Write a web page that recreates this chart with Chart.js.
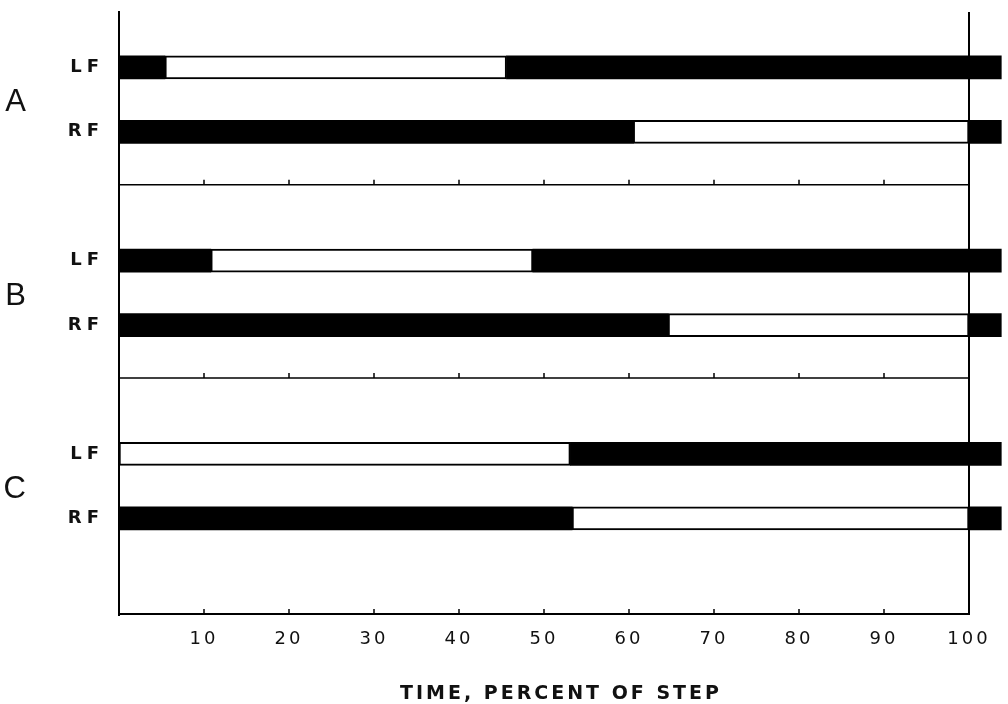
<!DOCTYPE html>
<html>
<head>
<meta charset="utf-8">
<script src="https://cdn.jsdelivr.net/npm/chart.js@4/dist/chart.umd.min.js"></script>
<style>
  html, body { margin: 0; padding: 0; background: #fff; }
  #wrap { width: 1008px; height: 704px; }
</style>
</head>
<body>
<div id="wrap"><canvas id="gait"></canvas></div>
<script>
// Footfall diagram: stance (black) and swing (white) of each forefoot
const groups = ["A", "B", "C"];
const feet = ["LF", "RF", "LF", "RF", "LF", "RF"];
// swing phase, percent of step
const swingStart = [5.4, 60.5, 10.8, 64.6, 0, 53.3];
const swingEnd = [45.6, 100, 48.7, 100, 53.1, 100];
// records run on a little into the next step
const traceEnd = 103.8;
const xTicks = [10, 20, 30, 40, 50, 60, 70, 80, 90, 100];

// vertical layout, in row units
const rowPos = [1, 2, 4, 5, 7, 8];
const groupPos = [1.55, 4.55, 7.55];
const separators = [2.82, 5.82];
const yMin = 0.14;
const yMax = 9.5;

const stanceBefore = [];
const swing = [];
const stanceAfter = [];
feet.forEach((f, i) => {
  if (swingStart[i] > 0) stanceBefore.push({ y: rowPos[i], x: [0, swingStart[i]] });
  swing.push({ y: rowPos[i], x: [swingStart[i], swingEnd[i]] });
  stanceAfter.push({ y: rowPos[i], x: [swingEnd[i], traceEnd] });
});

// per-axis letter spacing for the lettering
const spacing = {
  x: { labels: "3px", title: "3px" },
  y: { labels: "5px", title: "0px" },
  group: { labels: "0px", title: "0px" },
};

const spacingPlugin = {
  id: "spacing",
  beforeDraw(chart) {
    Object.values(chart.scales).forEach((scale) => {
      if (scale._spaced) return;
      scale._spaced = true;
      [["drawLabels", "labels"], ["drawTitle", "title"]].forEach(([fn, key]) => {
        const orig = scale[fn];
        scale[fn] = function (...args) {
          const ctx = this.ctx;
          const prev = ctx.letterSpacing;
          ctx.letterSpacing = (spacing[this.id] || {})[key] || "0px";
          orig.apply(this, args);
          ctx.letterSpacing = prev;
        };
      });
    });
  },
};

// end-of-step line, time axis and the separators between records
const framePlugin = {
  id: "frame",
  afterDatasetsDraw(chart) {
    const { ctx, chartArea, scales: { x, y } } = chart;
    const x0 = x.getPixelForValue(0);
    const x100 = x.getPixelForValue(100);
    ctx.save();
    ctx.strokeStyle = "#000";
    ctx.lineWidth = 2;
    ctx.beginPath();
    ctx.moveTo(x100, chartArea.top);
    ctx.lineTo(x100, chartArea.bottom);
    ctx.stroke();

    const lines = separators.map((v) => y.getPixelForValue(v));
    lines.push(chartArea.bottom - 1);
    lines.forEach((py, i) => {
      ctx.lineWidth = i === lines.length - 1 ? 2 : 1.5;
      ctx.beginPath();
      ctx.moveTo(x0, py);
      ctx.lineTo(x100, py);
      ctx.stroke();
      ctx.lineWidth = 1.5;
      xTicks.slice(0, -1).forEach((t) => {
        const px = x.getPixelForValue(t);
        ctx.beginPath();
        ctx.moveTo(px, py);
        ctx.lineTo(px, py - 5);
        ctx.stroke();
      });
    });
    ctx.restore();
  },
};

// the row axes should not reserve room for their end labels
const noEndPadding = (width) => (s) => {
  s.width = width;
  s.paddingTop = 0;
  s.paddingBottom = 0;
};

Chart.defaults.color = "#111";

new Chart(document.getElementById("gait"), {
  type: "bar",
  data: {
    datasets: [
      { label: "stance", data: stanceBefore, backgroundColor: "#000", borderWidth: 0 },
      {
        label: "swing",
        data: swing,
        backgroundColor: "#fff",
        borderColor: "#000",
        borderWidth: 2,
        borderSkipped: false,
      },
      { label: "stance", data: stanceAfter, backgroundColor: "#000", borderWidth: 0 },
    ],
  },
  options: {
    indexAxis: "y",
    responsive: true,
    maintainAspectRatio: false,
    animation: false,
    grouped: false,
    barThickness: 23,
    layout: { padding: { top: 12, right: 5, bottom: 0, left: 0 } },
    plugins: {
      legend: { display: false },
      tooltip: { enabled: false },
    },
    scales: {
      x: {
        type: "linear",
        min: 0,
        max: 104,
        offset: false,
        grid: { display: false },
        border: { display: false },
        afterBuildTicks: (s) => {
          s.ticks = xTicks.map((v) => ({ value: v }));
        },
        afterFit: (s) => {
          s.height = 89;
        },
        ticks: {
          autoSkip: false,
          maxRotation: 0,
          padding: 6,
          font: { family: "DejaVu Sans", size: 18 },
        },
        title: {
          display: true,
          text: "TIME, PERCENT OF STEP",
          padding: { top: 0, bottom: 0 },
          font: { family: "DejaVu Sans", size: 19, weight: "bold", lineHeight: 1 },
        },
      },
      y: {
        type: "linear",
        position: "left",
        reverse: true,
        min: yMin,
        max: yMax,
        offset: false,
        weight: 0,
        grid: { display: false, offset: false },
        border: { display: true, color: "#000", width: 2 },
        afterBuildTicks: (s) => {
          s.ticks = rowPos.map((v) => ({ value: v }));
        },
        afterFit: noEndPadding(73),
        ticks: {
          padding: 7,
          callback: (v) => feet[rowPos.indexOf(v)],
          font: { family: "DejaVu Sans", size: 18, weight: "bold" },
        },
      },
      group: {
        type: "linear",
        position: "left",
        reverse: true,
        min: yMin,
        max: yMax,
        offset: false,
        weight: 1,
        grid: { display: false, offset: false },
        border: { display: false },
        afterBuildTicks: (s) => {
          s.ticks = groupPos.map((v) => ({ value: v }));
        },
        afterFit: noEndPadding(46),
        ticks: {
          padding: 12,
          callback: (v) => groups[groupPos.indexOf(v)],
          font: { family: "Liberation Sans", size: 31 },
        },
      },
    },
  },
  plugins: [spacingPlugin, framePlugin],
});
</script>
</body>
</html>
